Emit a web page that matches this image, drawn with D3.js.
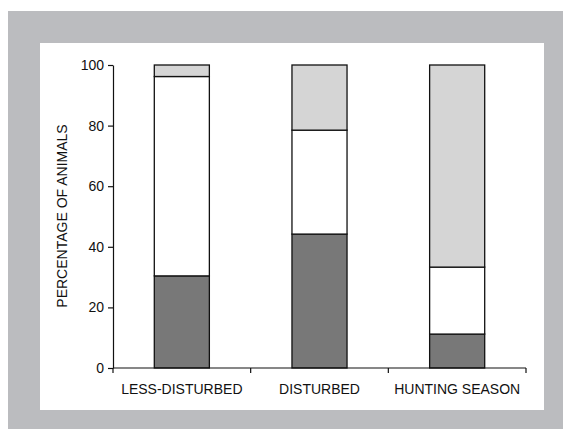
<!DOCTYPE html>
<html>
<head>
<meta charset="utf-8">
<script src="https://cdn.jsdelivr.net/npm/d3@7"></script>
<style>
  body { margin: 0; background: #fff; }
</style>
</head>
<body>
<div id="svg_container"></div>
<script>
// Data
const categories = ["LESS-DISTURBED", "DISTURBED", "HUNTING SEASON"];
const seriesNames = ["bottom", "middle", "top"];
const bottomValues = [30.4, 44.2, 11.2];
const middleValues = [65.8, 34.3, 22.1];
const topValues = [3.8, 21.5, 66.7];
const yTicks = [0, 20, 40, 60, 80, 100];

function createChart() {
    let width = 570;
    let height = 436;
    const font = "Liberation Sans, Arial, sans-serif";
    const svg = d3.select('#svg_container').append("svg")
        .attr("width", width)
        .attr("height", height);

    // gray frame and white panel
    svg.append("rect").attr("x", 8).attr("y", 11).attr("width", 555).attr("height", 418).attr("fill", "#bbbcbf");
    svg.append("rect").attr("x", 40).attr("y", 43).attr("width", 504).attr("height", 367).attr("fill", "#fff");

    const x = d3.scaleBand().domain(categories).range([113, 526]).padding(0);
    const y = d3.scaleLinear().domain([0, 100]).range([368, 65]);

    const rows = categories.map((c, i) => ({
        cat: c, bottom: bottomValues[i], middle: middleValues[i], top: topValues[i]
    }));
    const stacked = d3.stack().keys(seriesNames)(rows);
    const colors = { bottom: "#787878", middle: "#ffffff", top: "#d5d5d5" };
    const barW = x.bandwidth() * 0.4;

    svg.append("g")
        .selectAll("g")
        .data(stacked)
        .join("g")
        .attr("fill", d => colors[d.key])
        .attr("stroke", "#111")
        .attr("stroke-width", 1.3)
        .selectAll("rect")
        .data(d => d)
        .join("rect")
        .attr("x", d => x(d.data.cat) + (x.bandwidth() - barW) / 2)
        .attr("width", barW)
        .attr("y", d => y(d[1]))
        .attr("height", d => y(d[0]) - y(d[1]));

    // y axis
    const yAxis = svg.append("g")
        .attr("transform", "translate(113,0)")
        .call(d3.axisLeft(y).tickValues(yTicks).tickSize(5).tickPadding(4).tickSizeOuter(0));
    yAxis.select(".domain").attr("stroke", "#111").attr("stroke-width", 1.2);
    yAxis.selectAll(".tick line").attr("stroke", "#111").attr("stroke-width", 1.2);
    yAxis.selectAll("text").attr("font-family", font).attr("font-size", 14).attr("fill", "#111");

    // x axis with ticks at band boundaries
    svg.append("line").attr("x1", 113).attr("x2", 526).attr("y1", 368).attr("y2", 368)
        .attr("stroke", "#111").attr("stroke-width", 1.2);
    const bounds = categories.map(c => x(c)).concat([x(categories[categories.length - 1]) + x.bandwidth()]);
    svg.append("g").selectAll("line").data(bounds).join("line")
        .attr("x1", d => d).attr("x2", d => d).attr("y1", 368).attr("y2", 373)
        .attr("stroke", "#111").attr("stroke-width", 1.2);
    svg.append("g").selectAll("text").data(categories).join("text")
        .attr("x", d => x(d) + x.bandwidth() / 2)
        .attr("y", 394)
        .attr("text-anchor", "middle")
        .attr("font-family", font)
        .attr("font-size", 14)
        .attr("fill", "#111")
        .text(d => d);

    svg.append("text")
        .attr("transform", "translate(67,216) rotate(-90)")
        .attr("text-anchor", "middle")
        .attr("font-family", font)
        .attr("font-size", 14)
        .attr("fill", "#111")
        .text("PERCENTAGE OF ANIMALS");
}

document.addEventListener('DOMContentLoaded', function (e) {
    createChart();
});
</script>
</body>
</html>
